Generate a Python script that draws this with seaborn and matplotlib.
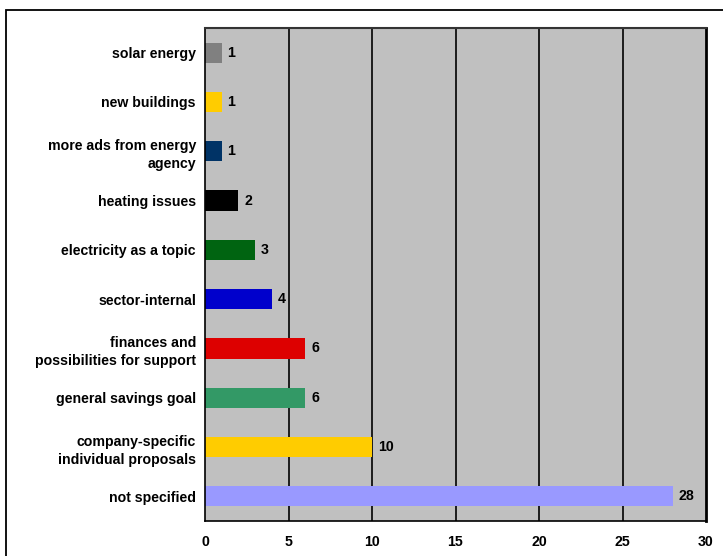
import matplotlib
matplotlib.use("Agg")
import matplotlib.pyplot as plt
import matplotlib.patches as mpatches
import seaborn as sns
import pandas as pd

categories = [
    "solar energy",
    "new buildings",
    "more ads from energy\nagency",
    "heating issues",
    "electricity as a topic",
    "sector-internal",
    "finances and\npossibilities for support",
    "general savings goal",
    "company-specific\nindividual proposals",
    "not specified",
]
counts = [1, 1, 1, 2, 3, 4, 6, 6, 10, 28]
colors = [
    "#808080", "#FFCC00", "#003366", "#000000", "#006411",
    "#0000CC", "#DD0000", "#339966", "#FFCC00", "#9999FF",
]
x_ticks = [0, 5, 10, 15, 20, 25, 30]

sns.set_theme(style="white")
plt.rcParams["font.family"] = ["Liberation Sans", "DejaVu Sans"]
plt.rcParams["text.color"] = "black"
plt.rcParams["xtick.color"] = "black"
plt.rcParams["ytick.color"] = "black"

df = pd.DataFrame({"category": categories, "count": counts})

fig = plt.figure(figsize=(7.23, 5.56), dpi=100)
ax = fig.add_axes([205 / 723, 1 - 521 / 556, 501 / 723, (521 - 28) / 556])

sns.barplot(
    data=df, x="count", y="category", hue="category",
    palette=dict(zip(categories, colors)), orient="h",
    width=0.41, legend=False, ax=ax, saturation=1,
    edgecolor="none", linewidth=0,
)

ax.set_facecolor("#C0C0C0")
ax.set_xlim(0, 30)
ax.set_ylim(len(categories) - 0.5, -0.5)
ax.set_xticks(x_ticks)
ax.set_xticklabels([str(t) for t in x_ticks], fontsize=10.2, fontweight="bold")
ax.set_xlabel("")
ax.set_ylabel("")

# vertical gridlines at the major ticks
for t in x_ticks[1:-1]:
    ax.axvline(t, color="black", lw=1.2, zorder=0.5)

# category labels, with tick marks between categories
ax.set_yticks(range(len(categories)))
ax.set_yticklabels(categories, fontsize=10.2, fontweight="bold", linespacing=1.4)
ax.tick_params(axis="y", length=0, pad=6.5)
ax.set_yticks([i + 0.5 for i in range(-1, len(categories))], minor=True)
ax.tick_params(axis="y", which="minor", length=4, width=1, color="black", direction="out")
ax.tick_params(axis="x", length=4, width=1, color="black", direction="out", pad=6)
for lbl in ax.get_yticklabels():
    lbl.set_horizontalalignment("right")
    lbl.set_multialignment("right")

for side in ["left", "bottom"]:
    ax.spines[side].set_color("black")
    ax.spines[side].set_linewidth(1.2)
ax.spines["right"].set_color("black")
ax.spines["right"].set_linewidth(2)
ax.spines["top"].set_color("#333333")
ax.spines["top"].set_linewidth(1.5)

# value labels to the right of each bar
for i, v in enumerate(counts):
    ax.text(v + 0.35, i, str(v), va="center", ha="left",
            fontsize=10.2, fontweight="bold", color="black")

# outer frame around the chart
frame = mpatches.Rectangle(
    (6 / 723, -0.1), 1.2, 1 - 10 / 556 + 0.1,
    transform=fig.transFigure, fill=False, edgecolor="black", lw=1.3,
)
fig.add_artist(frame)

fig.savefig("out.png", dpi=100)
